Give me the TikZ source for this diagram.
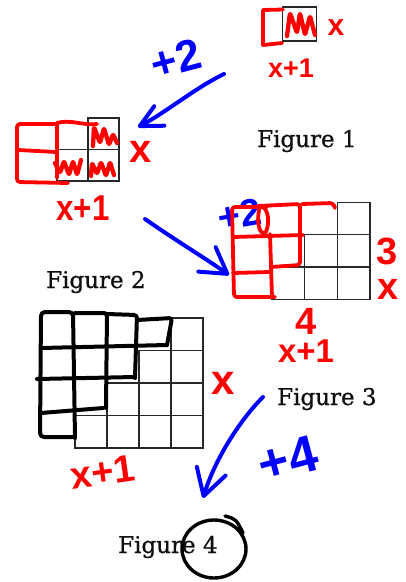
\documentclass[tikz,border=0pt]{standalone}
\usepackage{fontspec}
\setmainfont{DejaVu Serif}
\newfontfamily\labfont{DejaVu Serif}[FakeBold=0.7]
\newfontfamily\handfont{Liberation Sans}
\usetikzlibrary{arrows.meta}
\definecolor{hred}{RGB}{255,0,0}
\definecolor{hblue}{RGB}{0,0,255}
\definecolor{gridc}{RGB}{40,40,40}
\definecolor{labc}{RGB}{15,15,15}
\tikzset{
  redpen/.style={draw=hred, line width=3.8pt, line cap=round, line join=round},
  bluepen/.style={draw=hblue, line width=4pt, line cap=round, line join=round},
  blackpen/.style={draw=black, line width=4pt, line cap=round, line join=round},
  gridline/.style={draw=gridc, line width=1.3pt},
  figlabel/.style={font=\labfont\fontsize{23}{23}\selectfont, text=labc, anchor=base west, inner sep=0pt},
  handtxt/.style={font=\handfont\bfseries\fontsize{#1}{#1}\selectfont, inner sep=0pt},
}
\begin{document}
\begin{tikzpicture}[x=1pt,y=-1pt]
\useasboundingbox (0,0) rectangle (405,582);
\fill[white] (0,0) rectangle (405,582);

% ---------- printed grids (staircases) ----------
% Figure 1
\draw[gridline] (282.5,7) rectangle (316.5,41);
% Figure 2
\foreach \r in {0,1}{
  \pgfmathtruncatemacro\cs{1-\r}
  \foreach \c in {\cs,...,1}{
    \draw[gridline] ({57+31*\c},{118+31.5*\r}) rectangle +(31,31.5);
  }
}
% Figure 3
\foreach \r in {0,1,2}{
  \pgfmathtruncatemacro\cs{2-\r}
  \foreach \c in {\cs,...,2}{
    \draw[gridline] ({271.7+32.8*\c},{202.3+32.4*\r}) rectangle +(32.8,32.4);
  }
}
% Figure 4
\foreach \r in {0,1,2,3}{
  \pgfmathtruncatemacro\cs{3-\r}
  \foreach \c in {\cs,...,3}{
    \draw[gridline] ({75+32*\c},{318+32.5*\r}) rectangle +(32,32.5);
  }
}

% ---------- printed labels ----------
\node[figlabel] (f1) at (257,147) {Figure 1};
\node[figlabel] (f2) at (46,288) {Figure 2};
\node[figlabel] (f3) at (277,405) {Figure 3};
\node[figlabel] (f4) at (118,553) {Figure 4};

% ---------- blue annotations ----------
\node[handtxt=44, text=hblue, rotate=15] (p2a) at (176,59) {+2};
\node[handtxt=38, text=hblue, rotate=10] (p2b) at (240,215) {+2};
\node[handtxt=52, text=hblue, rotate=15] (p4) at (288,459) {+4};

\coordinate (a1s) at (224,74);
\coordinate (a1e) at (138,127);
\draw[bluepen, -{Straight Barb[round, length=22pt, width=22pt]}]
  (a1s) .. controls (195,88) and (165,113) .. (a1e);

\coordinate (a2s) at (145,219);
\coordinate (a2e) at (229,275);
\draw[bluepen, -{Straight Barb[round, length=25pt, width=30pt]}]
  (a2s) .. controls (175,240) and (205,258) .. (a2e);

\coordinate (a3s) at (263,397);
\coordinate (a3e) at (203,498);
\draw[bluepen, -{Straight Barb[round, length=26pt, width=30pt]}]
  (a3s) .. controls (238,422) and (214,462) .. (a3e);

% ---------- red drawings ----------
% Figure 1
\draw[redpen] (283,9.5) -- (263,10) -- (263,45) -- (282,43);
\draw[redpen, line width=4.3pt, rounded corners=2pt]
  (287,36) -- (290,13) -- (297,33) -- (300,13) -- (305,35) -- (310,16) -- (315,35);
% Figure 2
\draw[redpen, rounded corners=3pt] (57,124) -- (17,124) -- (17,182) -- (68,183);
\draw[redpen] (18,150) -- (56,152);
\draw[redpen] (57,178) -- (57,123) .. controls (70,119) and (85,126) .. (97,124);
\draw[redpen, line width=4.3pt, rounded corners=2pt]
  (93,146) -- (94,127) -- (100,143) -- (104,128) -- (109,145) -- (113,134) -- (117,143);
\draw[redpen, line width=4.3pt, rounded corners=2pt]
  (55,163) -- (60,173) -- (64,161) -- (69,175) -- (73,161) -- (77,175) -- (81,160);
\draw[redpen, line width=4.3pt, rounded corners=2pt]
  (91,176) -- (92,163) -- (97,174) -- (101,162) -- (106,176) -- (110,162) -- (114,175);
% Figure 3
\draw[redpen, rounded corners=3pt] (267,207) -- (232,207) -- (234,297) -- (275,297);
\draw[redpen] (270,234) -- (272,297);
\draw[redpen] (233,237) -- (303,235);
\draw[redpen] (233,273) -- (270,272);
\draw[redpen, rounded corners=3pt] (258,206) -- (300,204) -- (300,265) -- (271,267);
\draw[redpen] (260,206) .. controls (255,225) and (261,237) .. (266,232)
  .. controls (270,222) and (268,210) .. (263,207);
\draw[redpen, rounded corners=3pt] (302,204) -- (333,203) -- (335,208);

% ---------- black drawings (Figure 4) ----------
\draw[blackpen, rounded corners=4pt] (75,438) -- (73,312) -- (41,312) -- (40,437) -- (74,437);
\draw[blackpen, rounded corners=3pt] (75,313) -- (107,313) -- (106,408);
\draw[blackpen, rounded corners=3pt] (107,314) -- (137,315) -- (135,378);
\draw[blackpen, rounded corners=3pt] (137,320) -- (172,318) -- (167,345);
\draw[blackpen] (41,348) -- (167,345);
\draw[blackpen] (37,379) -- (135,377);
\draw[blackpen] (41,413) -- (103,408);
% circle round the 4
\draw[blackpen, line width=3.4pt] (214,549) ellipse [x radius=32pt, y radius=29pt];
\draw[blackpen, line width=3.4pt] (225,516) .. controls (236,519) .. (243,533);

% ---------- red labels ----------
\node[handtxt=30, text=hred] (l1x) at (336,28) {x};
\node[handtxt=27, text=hred] (l1w) at (291,68) {x+1};
\node[handtxt=40, text=hred] (l2x) at (141,152) {x};
\node[handtxt=36, text=hred, xscale=0.87] (l2w) at (83,208) {x+1};
\node[handtxt=38, text=hred] (l3h) at (387,251) {3};
\node[handtxt=38, text=hred] (l3x) at (388,289) {x};
\node[handtxt=38, text=hred] (l3n) at (306,321) {4};
\node[handtxt=33, text=hred] (l3w) at (306,351) {x+1};
\node[handtxt=42, text=hred] (l4x) at (223,383) {x};
\node[handtxt=38, text=hred, rotate=8] (l4w) at (103,472) {x+1};
\end{tikzpicture}
\end{document}
